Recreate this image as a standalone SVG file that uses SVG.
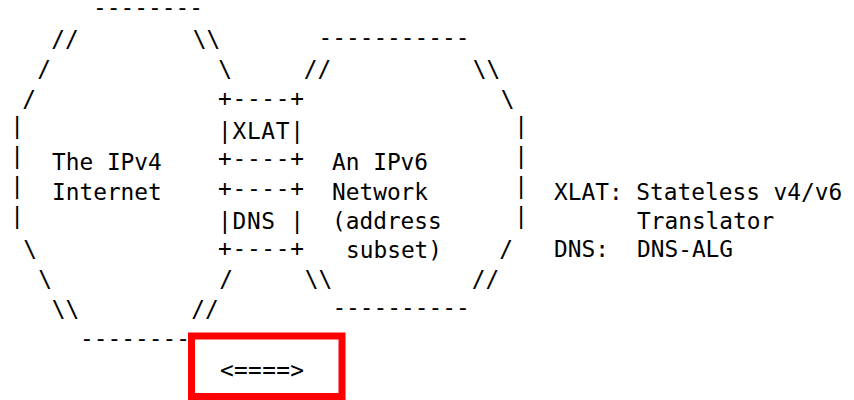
<svg xmlns="http://www.w3.org/2000/svg" width="854" height="400" viewBox="0 0 854 400">
<style>
text{font-family:"DejaVu Sans Mono","Liberation Mono",monospace;font-size:22.8px;fill:#000}
.m{text-anchor:middle}
.hl{fill:none;stroke:#ff0000;stroke-width:7}
</style>
<rect width="854" height="400" fill="#fff"/>
<g id="ipv4-internet">
<text class="m" x="148" y="15">--------</text>
<text class="m" x="65" y="47">//</text>
<text class="m" x="206.5" y="47">\\</text>
<text class="m" x="44" y="77">/</text>
<text class="m" x="225" y="77">\</text>
<text class="m" x="29" y="107">/</text>
<text class="m" x="17" y="134">|</text>
<text class="m" x="17" y="164">|</text>
<text class="m" x="17" y="194">|</text>
<text class="m" x="17" y="224">|</text>
<text x="52" y="170">The IPv4</text>
<text x="52" y="200">Internet</text>
<text class="m" x="30" y="257">\</text>
<text class="m" x="45" y="287">\</text>
<text class="m" x="226" y="287">/</text>
<text class="m" x="65.5" y="317">\\</text>
<text class="m" x="205" y="317">//</text>
<text class="m" x="135" y="346">--------</text>
</g>
<g id="ipv6-network">
<text class="m" x="394" y="45">-----------</text>
<text class="m" x="317.5" y="77">//</text>
<text class="m" x="486.5" y="77">\\</text>
<text class="m" x="507.5" y="107">\</text>
<text class="m" x="521" y="134">|</text>
<text class="m" x="521" y="164">|</text>
<text class="m" x="521" y="194">|</text>
<text class="m" x="521" y="224">|</text>
<text x="332" y="170">An IPv6</text>
<text x="332" y="200">Network</text>
<text x="332" y="229">(address</text>
<text x="346" y="258">subset)</text>
<text class="m" x="506" y="257">/</text>
<text class="m" x="318.5" y="287">\\</text>
<text class="m" x="485.5" y="287">//</text>
<text class="m" x="401" y="315">----------</text>
</g>
<g id="xlat">
<text x="218" y="106" textLength="86" lengthAdjust="spacing">+----+</text>
<text x="218" y="139" textLength="86" lengthAdjust="spacing">|XLAT|</text>
<text x="218" y="166" textLength="86" lengthAdjust="spacing">+----+</text>
</g>
<g id="dns">
<text x="218" y="196" textLength="86" lengthAdjust="spacing">+----+</text>
<text x="218" y="229" textLength="86" lengthAdjust="spacing">|DNS |</text>
<text x="218" y="256" textLength="86" lengthAdjust="spacing">+----+</text>
</g>
<g id="legend">
<text x="554" y="200">XLAT: Stateless v4/v6</text>
<text x="637" y="229">Translator</text>
<text x="554" y="257">DNS:</text>
<text x="637" y="257">DNS-ALG</text>
</g>
<g id="connectors">
<text x="220" y="378" textLength="84" lengthAdjust="spacing">&lt;====&gt;</text>
<rect class="hl" x="191.5" y="336" width="150.5" height="60.5"/>
</g>
</svg>
